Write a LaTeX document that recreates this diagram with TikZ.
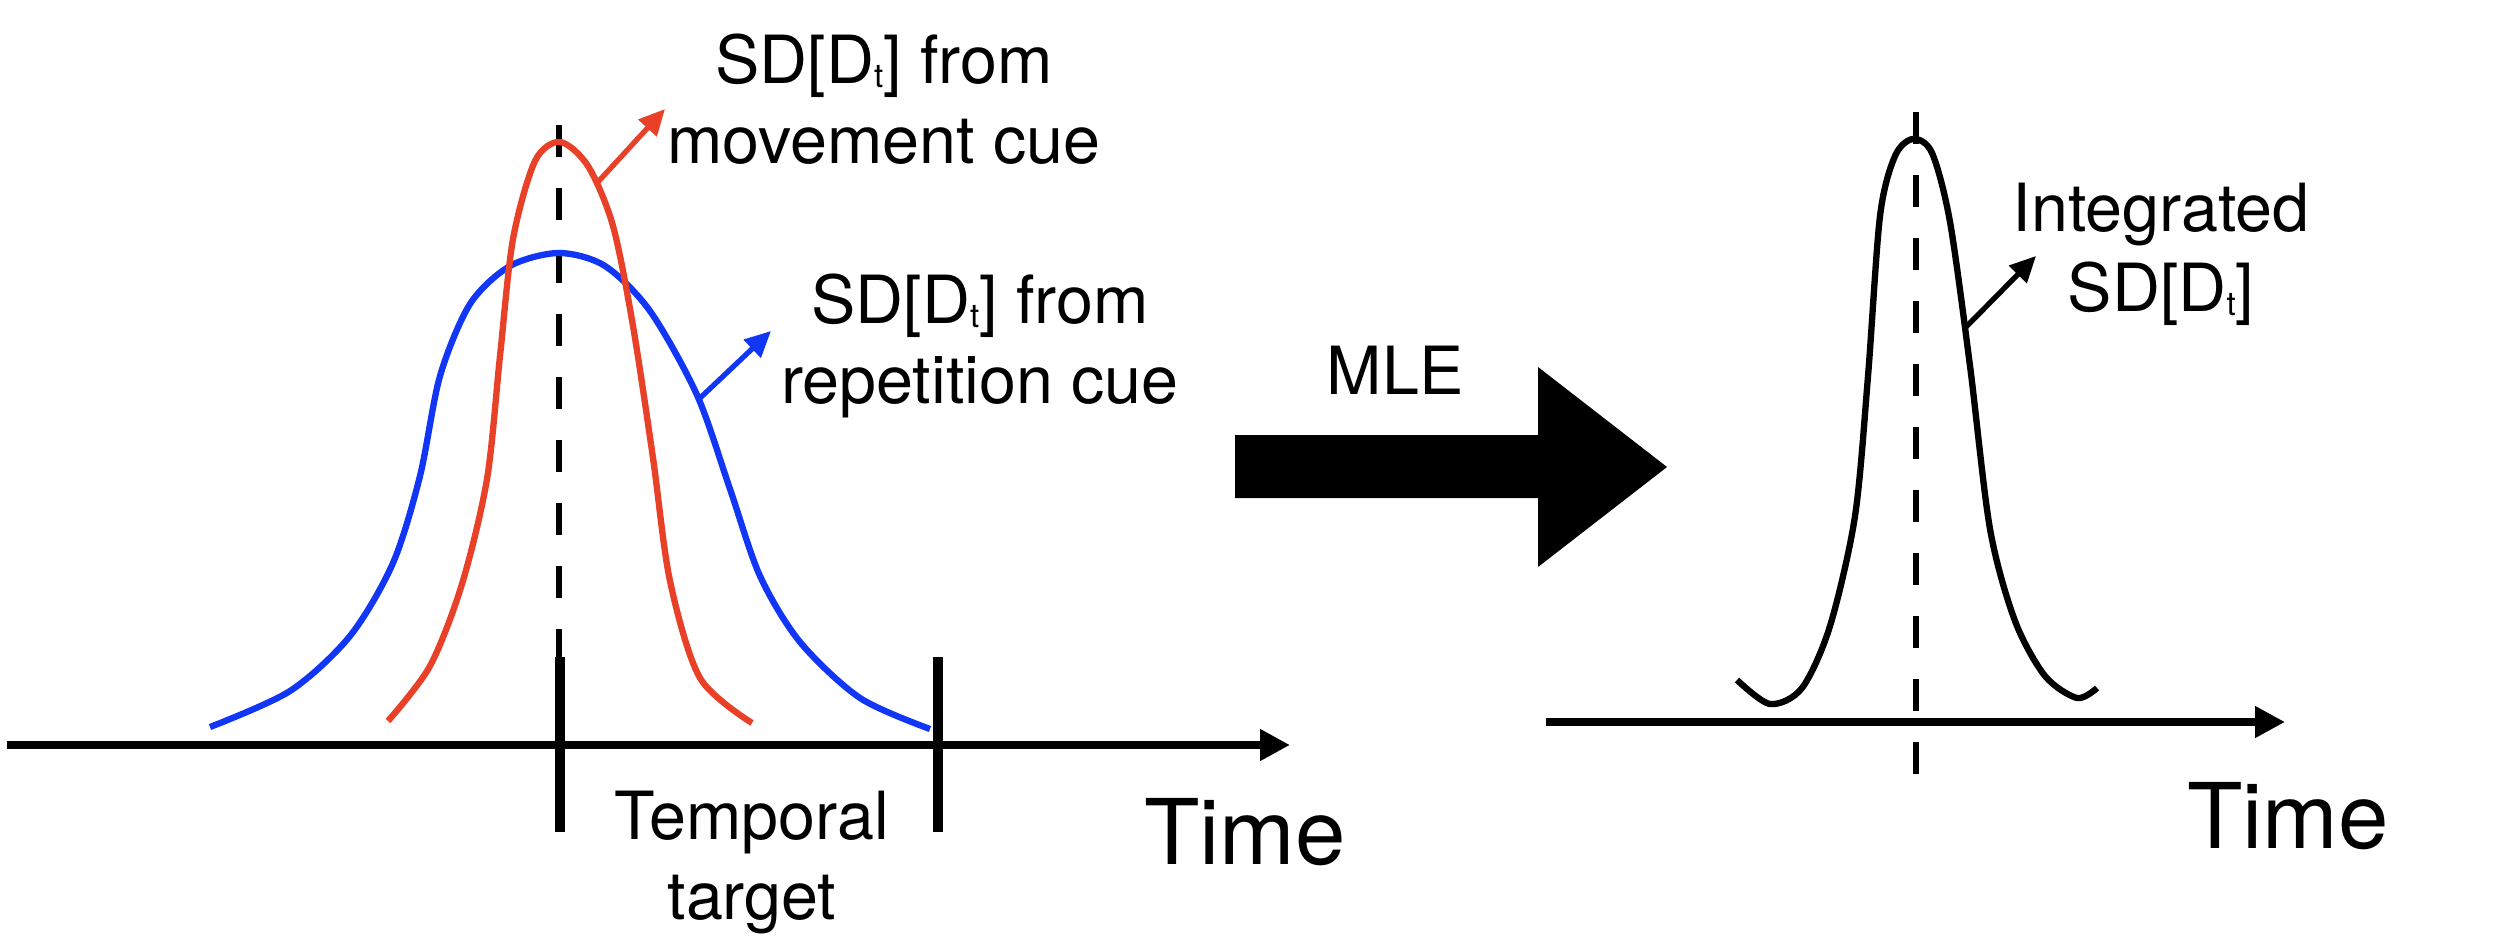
\documentclass[tikz,border=0pt]{standalone}
\usepackage{fontspec}
\setmainfont{TeX Gyre Heros}
\usepackage{tikz}
\usetikzlibrary{arrows.meta,positioning}
\definecolor{CueRed}{HTML}{E94128}
\definecolor{CueBlue}{HTML}{1236F5}
\newcommand{\SDDt}{SD[D\raisebox{-1.2pt}{\fontsize{9.4}{10}\selectfont t}]}

\begin{document}
\begin{tikzpicture}[
  axisline/.style={line width=2.1pt,-{Triangle[length=0.3cm,width=0.3cm]}},
  tickbar/.style={line width=3.1pt},
  guide/.style={line width=1.6pt,dash pattern=on 0.32cm off 0.31cm},
  cuecurve/.style={line width=1.8pt,smooth},
  pointer/.style={line width=1.5pt,-{Triangle[length=0.26cm,width=0.24cm]}},
  lbl/.style={font=\fontsize{18.9}{22.8}\selectfont,align=center,inner sep=0pt,anchor=north},
  timelbl/.style={font=\fontsize{25.8}{30}\selectfont,inner sep=0pt,anchor=north}]
  \useasboundingbox (0,0) rectangle (24.98,9.46);

  % left panel: two cues
  \coordinate (axL0) at (0.07,2.01);
  \coordinate (axL1) at (12.90,2.01);
  \draw[axisline] (axL0) -- (axL1);
  \draw[tickbar] (5.60,2.89) -- (5.60,1.14);
  \draw[tickbar] (9.38,2.89) -- (9.38,1.14);
  \draw[guide] (5.59,8.21) -- (5.59,2.89);
  \draw[cuecurve,CueBlue] plot coordinates {(2.10,2.19) (2.90,2.55) (3.50,3.10) (3.93,3.83)
    (4.20,4.70) (4.40,5.70) (4.70,6.42) (5.10,6.80) (5.59,6.93) (6.05,6.80) (6.50,6.35)
    (6.97,5.51) (7.30,4.57) (7.60,3.70) (8.00,3.04) (8.60,2.48) (9.30,2.17)};
  \draw[cuecurve,CueRed] plot coordinates {(3.88,2.25) (4.30,2.80) (4.62,3.62) (4.87,4.67)
    (5.00,5.90) (5.13,7.07) (5.35,7.85) (5.60,8.04) (5.88,7.80) (6.13,7.20) (6.33,6.20)
    (6.53,4.88) (6.70,3.65) (7.00,2.68) (7.52,2.23)};

  \coordinate (redfoot) at (5.97,7.63);
  \coordinate (redhead) at (6.65,8.37);
  \coordinate (bluefoot) at (6.99,5.47);
  \coordinate (bluehead) at (7.71,6.15);
  \draw[pointer,CueRed] (redfoot) -- (redhead);
  \draw[pointer,CueBlue] (bluefoot) -- (bluehead);

  \node[lbl] (movecue) at (8.84,9.13) {\SDDt{} from\\movement cue};
  \node[lbl] (repcue) at (9.80,6.73) {\SDDt{} from\\repetition cue};
  \node[lbl] (tgt) at (7.52,1.56) {Temporal\\target};
  \node[timelbl] (timeL) at (12.45,1.48) {Time};

  % MLE arrow
  \fill (12.35,5.11) -- (15.38,5.11) -- (15.38,5.79) -- (16.67,4.79) -- (15.38,3.79)
    -- (15.38,4.48) -- (12.35,4.48) -- cycle;
  \node[lbl] (mle) at (13.95,6.01) {MLE};

  % right panel: integrated
  \coordinate (axR0) at (15.46,2.24);
  \coordinate (axR1) at (22.85,2.24);
  \draw[axisline] (axR0) -- (axR1);
  \draw[guide] (19.16,8.34) -- (19.16,1.69);
  \draw[cuecurve] plot coordinates {(17.37,2.66) (17.70,2.42) (18.02,2.58) (18.30,3.20)
    (18.55,4.30) (18.68,5.70) (18.80,7.30) (18.95,7.90) (19.13,8.07) (19.32,7.93)
    (19.50,7.24) (19.70,5.80) (19.90,4.17) (20.15,3.25) (20.45,2.70) (20.77,2.48)
    (20.97,2.58)};
  \coordinate (intfoot) at (19.65,6.18);
  \coordinate (inthead) at (20.36,6.90);
  \draw[pointer] (intfoot) -- (inthead);
  \node[lbl] (intg) at (21.61,7.64) {Integrated\\\SDDt};
  \node[timelbl] (timeR) at (22.88,1.64) {Time};
\end{tikzpicture}
\end{document}
